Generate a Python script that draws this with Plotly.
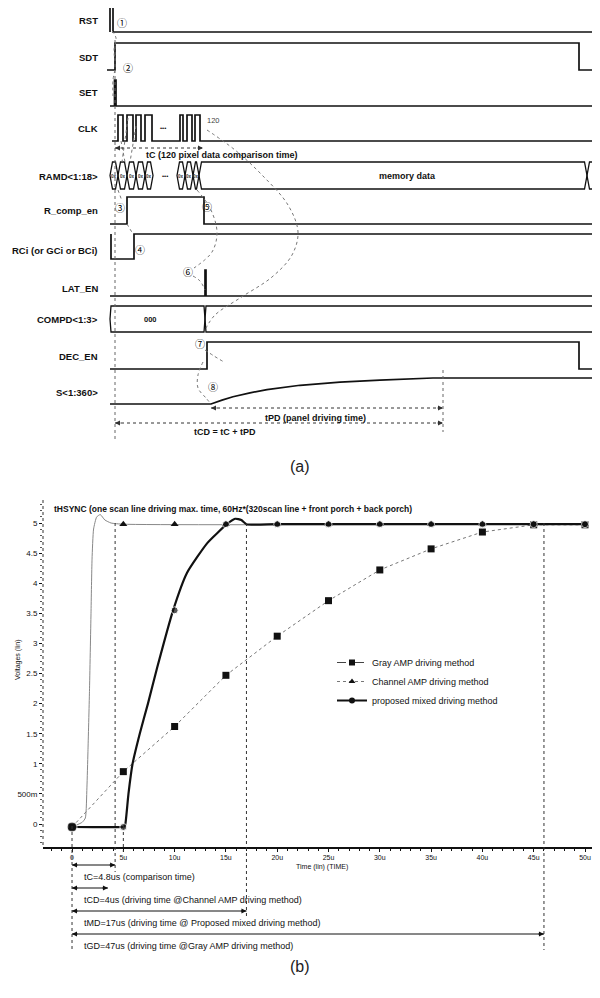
import plotly.graph_objects as go

W, H = 600, 998
OFF = 8  # page body margin offset of the rendered figure


def px(x):
    return (x - OFF) / W


def py(y):
    return 1 - (y - OFF) / H


# ===================== (a) timing diagram data (diagram time units) =====================
SIGNAL_NAMES = ["RST", "SDT", "SET", "CLK", "RAMD<1:18>", "R_comp_en",
                "RCi (or GCi or BCi)", "LAT_EN", "COMPD<1:3>", "DEC_EN", "S<1:360>"]

RST_T = [110, 110, 113, 113, 600]
RST_V = [0, 1, 1, 0, 0]
SDT_T = [107, 115, 115, 579, 579, 600]
SDT_V = [0, 0, 1, 1, 0, 0]
SET_T = [110, 114.5, 114.5, 116, 116, 600]
SET_V = [0, 0, 1, 1, 0, 0]
CLK_RISE = [118, 127, 136, 145, 180, 187, 195]
CLK_FALL = [123, 133, 141, 152, 183, 192, 200]
RCOMP_T = [110, 127, 127, 204, 204, 600]
RCOMP_V = [0, 0, 1, 1, 0, 0]
RCI_T = [111, 111, 134, 134, 600]
RCI_V = [1, 0, 0, 1, 1]
LAT_T = [110, 205, 205, 206, 206, 600]
LAT_V = [0, 0, 1, 1, 0, 0]
DEC_T = [110, 207, 207, 579, 579, 600]
DEC_V = [0, 0, 1, 1, 0, 0]
S_T = [110, 211, 222, 233, 250, 267, 300, 340, 380, 433, 600]
S_V = [0, 0, 0.15, 0.28, 0.43, 0.55, 0.72, 0.84, 0.92, 1.0, 1.0]

RAMD_GROUP1 = [110, 118, 127, 136, 145, 153]
RAMD_GROUP2 = [177, 185, 193, 199]
RAMD_MEM = [199, 587, 606]
COMPD_BOUNDS = [110, 205, 606]

# ===================== (b) voltage chart data =====================
T_MARK = [0, 5, 10, 15, 20, 25, 30, 35, 40, 45, 50]          # us
GRAY_V = [-0.05, 0.87, 1.62, 2.47, 3.12, 3.71, 4.22, 4.57, 4.85, 4.97, 4.97]
CHANNEL_MARK_V = [-0.05, 4.98, 4.98, 4.98, 4.98, 4.98, 4.98, 4.98, 4.98, 4.98, 4.98]
MIXED_MARK_V = [-0.05, -0.05, 3.55, 4.98, 4.98, 4.98, 4.98, 4.98, 4.98, 4.98, 4.98]

CHANNEL_T = [0, 1.0, 1.3, 1.45, 1.55, 1.7, 1.85, 1.95, 2.1, 2.4, 2.75, 3.2, 3.8, 5, 50]
CHANNEL_V = [-0.05, 0.03, 0.1, 0.6, 1.2, 2.2, 3.5, 4.4, 4.9, 5.1, 5.14, 5.05, 5.0, 4.98, 4.98]
MIXED_T = [0, 4.9, 5.1, 5.2, 5.5, 5.9, 6.6, 7.4, 8.3, 9.85, 11.2, 13.2, 15.1, 15.9, 16.5, 17, 20, 50]
MIXED_V = [-0.05, -0.05, -0.04, 0.0, 0.5, 1.0, 1.5, 2.0, 2.6, 3.55, 4.17, 4.67, 4.98, 5.07, 5.05, 4.98,
           4.98, 4.98]

X_TICKS = [0, 5, 10, 15, 20, 25, 30, 35, 40, 45, 50]
X_TICKTEXT = ["0", "5u", "10u", "15u", "20u", "25u", "30u", "35u", "40u", "45u", "50u"]
Y_TICKS = [0, 0.5, 1, 1.5, 2, 2.5, 3, 3.5, 4, 4.5, 5]
Y_TICKTEXT = ["0", "500m", "1", "1.5", "2", "2.5", "3", "3.5", "4", "4.5", "5"]

TIME_MARKS = {"tC": 4.2, "tCD": 3.5, "tMD": 17, "tGD": 46}
TIME_TEXTS = ["tC=4.8us (comparison time)",
              "tCD=4us (driving time @Channel AMP driving method)",
              "tMD=17us (driving time @ Proposed mixed driving method)",
              "tGD=47us (driving time @Gray AMP driving method)"]

# ===================== layout helpers (positions / styles) =====================
ROW = {  # name: (low y, high y, label y)   in diagram pixel rows
    "RST": (32, 7, 20), "SDT": (70, 43, 57), "SET": (106, 80, 92), "CLK": (141, 115, 128),
    "RAMD<1:18>": (189, 162, 176), "R_comp_en": (224, 197, 210),
    "RCi (or GCi or BCi)": (259, 234, 250), "LAT_EN": (296, 270, 288),
    "COMPD<1:3>": (332, 306, 319), "DEC_EN": (369, 342, 356), "S<1:360>": (404, 378, 392),
}
BLACK = "#111111"
LBL_FONT = "Liberation Sans"

fig = go.Figure()


def add_signal(name, t, v):
    lo, hi, _ = ROW[name]
    ys = [lo + (hi - lo) * k for k in v]
    fig.add_trace(go.Scatter(x=t, y=ys, mode="lines", line=dict(color=BLACK, width=1.7),
                             xaxis="x", yaxis="y", showlegend=False, hoverinfo="skip"))


def add_bus(name, bounds, d=2.5):
    lo, hi, _ = ROW[name]
    mid = (lo + hi) / 2
    for a, b in zip(bounds[:-1], bounds[1:]):
        xs = [a, a + d, b - d, b, b - d, a + d, a]
        ys = [mid, hi, hi, mid, lo, lo, mid]
        fig.add_trace(go.Scatter(x=xs, y=ys, mode="lines", line=dict(color=BLACK, width=1.3),
                                 xaxis="x", yaxis="y", showlegend=False, hoverinfo="skip"))


add_signal("RST", RST_T, RST_V)
add_signal("SDT", SDT_T, SDT_V)
add_signal("SET", SET_T, SET_V)
clk_t, clk_v = [112], [0]
for r, f in zip(CLK_RISE, CLK_FALL):
    clk_t += [r, r, f, f]
    clk_v += [0, 1, 1, 0]
clk_t.append(600)
clk_v.append(0)
add_signal("CLK", clk_t, clk_v)
add_bus("RAMD<1:18>", RAMD_GROUP1)
add_bus("RAMD<1:18>", RAMD_GROUP2)
add_bus("RAMD<1:18>", RAMD_MEM)
add_signal("R_comp_en", RCOMP_T, RCOMP_V)
add_signal("RCi (or GCi or BCi)", RCI_T, RCI_V)
add_signal("LAT_EN", LAT_T, LAT_V)
add_bus("COMPD<1:3>", COMPD_BOUNDS, d=1)
add_signal("DEC_EN", DEC_T, DEC_V)
add_signal("S<1:360>", S_T, S_V)

# gray dotted sequence curves
SEQ_PATHS = [
    [(112, 31), (116, 38), (114, 50), (115, 60)],
    [(115, 70), (113, 80), (113, 96)],
    [(128, 118), (122, 162)], [(136, 126), (130, 162)], [(121, 141), (125, 162)],
    [(118, 190), (122, 201)], [(127, 224), (133, 234)],
    [(207, 130), (235, 150), (262, 175), (288, 205), (298, 232), (292, 255),
     (272, 277), (240, 298), (215, 315), (206, 328)],
    [(197, 190), (210, 208), (217, 232), (212, 252), (194, 268)],
    [(193, 276), (200, 281), (205, 290)],
    [(205, 350), (214, 356), (224, 362)],
    [(203, 362), (198, 375), (198, 388), (206, 398), (211, 404)],
]
for path in SEQ_PATHS:
    fig.add_trace(go.Scatter(x=[p[0] for p in path], y=[p[1] for p in path], mode="lines",
                             line=dict(color="#777777", width=1, dash="dot", shape="spline"),
                             xaxis="x", yaxis="y", showlegend=False, hoverinfo="skip"))

shapes = []
annotations = []

# vertical dotted guides in (a)
shapes.append(dict(type="line", xref="x", yref="y", x0=115, x1=115, y0=40, y1=440,
                   line=dict(color="#666666", width=1, dash="dot")))
shapes.append(dict(type="line", xref="x", yref="y", x0=443, x1=443, y0=370, y1=432,
                   line=dict(color="#666666", width=1, dash="dot")))


def arrow(x0, x1, y, xref, yref, dash="dot", color="#333333"):
    shapes.append(dict(type="line", xref=xref, yref=yref, x0=x0, x1=x1, y0=y, y1=y,
                       line=dict(color=color, width=1, dash=dash)))
    for xe, ax in ((x0, 7), (x1, -7)):
        annotations.append(dict(x=xe, y=y, xref=xref, yref=yref, ax=ax, ay=0, text="",
                                showarrow=True, arrowhead=2, arrowsize=1, arrowwidth=1,
                                arrowcolor=color, standoff=0))


arrow(115, 203, 148, "x", "y")
arrow(211, 443, 408, "x", "y")
arrow(115, 443, 423, "x", "y")

# signal labels
for name in SIGNAL_NAMES:
    annotations.append(dict(x=100, y=ROW[name][2], xref="x", yref="y", text=f"<b>{name}</b>",
                            showarrow=False, xanchor="right", yanchor="middle",
                            font=dict(family=LBL_FONT, size=9.5, color=BLACK)))

CIRCLED = [("①", 122, 22), ("②", 128, 67), ("③", 120, 207), ("④", 140, 249),
           ("⑤", 207, 206), ("⑥", 188, 271), ("⑦", 200, 343), ("⑧", 213, 386)]
for txt, x, y in CIRCLED:
    annotations.append(dict(x=x, y=y, xref="x", yref="y", text=txt, showarrow=False,
                            font=dict(family="Noto Sans CJK JP", size=10, color="#000000")))

top_texts = [
    ("120", 213, 120, 7.5, False, "#444444"),
    ("tC (120 pixel data comparison time)", 222, 155, 9, True, BLACK),
    ("memory data", 407, 176, 9, True, BLACK),
    ("000", 150, 319, 7.5, True, BLACK),
    ("tPD (panel driving time)", 315, 418, 9, True, BLACK),
    ("tCD = tC + tPD", 225, 432, 9, True, BLACK),
    ("•••", 163, 128, 6, True, BLACK),
    ("•••", 165, 176, 6, True, BLACK),
]
for txt, x, y, s, b, c in top_texts:
    annotations.append(dict(x=x, y=y, xref="x", yref="y", text=f"<b>{txt}</b>" if b else txt,
                            showarrow=False, font=dict(family=LBL_FONT, size=s, color=c)))
for a, b in zip(RAMD_GROUP1[:-1] + RAMD_GROUP2[:-1], RAMD_GROUP1[1:] + RAMD_GROUP2[1:]):
    annotations.append(dict(x=(a + b) / 2, y=176, xref="x", yref="y", text="<b>0x</b>",
                            showarrow=False, font=dict(family=LBL_FONT, size=4.5, color="#333")))

# ===================== (b) traces =====================
fig.add_trace(go.Scatter(x=T_MARK, y=GRAY_V, mode="lines", line=dict(color="#777777", width=1, dash="dot"),
                         xaxis="x2", yaxis="y2", showlegend=False, hoverinfo="skip"))
fig.add_trace(go.Scatter(x=CHANNEL_T, y=CHANNEL_V, mode="lines",
                         line=dict(color="#888888", width=1, shape="spline", smoothing=0.5),
                         xaxis="x2", yaxis="y2", showlegend=False, hoverinfo="skip"))
fig.add_trace(go.Scatter(x=MIXED_T, y=MIXED_V, mode="lines",
                         line=dict(color=BLACK, width=2.2, shape="spline", smoothing=0.5),
                         xaxis="x2", yaxis="y2", showlegend=False, hoverinfo="skip"))
fig.add_trace(go.Scatter(x=T_MARK, y=GRAY_V, mode="markers",
                         marker=dict(symbol="square", size=7, color=BLACK),
                         xaxis="x2", yaxis="y2", showlegend=False, hoverinfo="skip"))
fig.add_trace(go.Scatter(x=T_MARK, y=CHANNEL_MARK_V, mode="markers",
                         marker=dict(symbol="triangle-up", size=7, color=BLACK),
                         xaxis="x2", yaxis="y2", showlegend=False, hoverinfo="skip"))
fig.add_trace(go.Scatter(x=T_MARK, y=MIXED_MARK_V, mode="markers",
                         marker=dict(symbol="circle", size=[10] + [7] * (len(T_MARK) - 1), color=BLACK),
                         xaxis="x2", yaxis="y2", showlegend=False, hoverinfo="skip"))

# legend entries
LEGEND_NAMES = ["Gray AMP driving method", "Channel AMP driving method", "proposed mixed driving method"]
legend_styles = [
    (dict(color="#444444", width=1, dash="dash"), "square"),
    (dict(color="#777777", width=1, dash="dot"), "triangle-up"),
    (dict(color=BLACK, width=2), "circle"),
]
for nm, (ln, sym) in zip(LEGEND_NAMES, legend_styles):
    fig.add_trace(go.Scatter(x=[None], y=[None], mode="lines+markers", name=nm, line=ln,
                             marker=dict(symbol=sym, size=6, color=BLACK),
                             xaxis="x2", yaxis="y2"))

# dotted guide lines in (b)
GUIDES = [(0, 826, 952), (TIME_MARKS["tC"], 523, 872), (5, 826, 852),
          (TIME_MARKS["tMD"], 523, 918), (TIME_MARKS["tGD"], 523, 950)]
for t, y0, y1 in GUIDES:
    shapes.append(dict(type="line", xref="x2", yref="paper", x0=t, x1=t, y0=py(y0), y1=py(y1),
                       line=dict(color="#333333", width=1, dash="dot")))
# y-axis dotted line
shapes.append(dict(type="line", xref="paper", yref="paper", x0=px(43), x1=px(43), y0=py(500), y1=py(847),
                   line=dict(color="#333333", width=1, dash="dot")))

arrow_rows = [865, 888, 911, 934]
for (key, tend), yrow, txt in zip(TIME_MARKS.items(), arrow_rows, TIME_TEXTS):
    arrow(0, tend, py(yrow), "x2", "paper", dash="solid", color=BLACK)
    annotations.append(dict(x=1.0, y=py(yrow + 12), xref="x2", yref="paper", text=txt, showarrow=False,
                            xanchor="left", yanchor="middle",
                            font=dict(family=LBL_FONT, size=9, color=BLACK)))

annotations += [
    dict(x=px(52), y=py(509), xref="paper", yref="paper", xanchor="left", yanchor="middle",
         text="<b>tHSYNC (one scan line driving max. time, 60Hz*(320scan line + front porch + back porch)</b>",
         showarrow=False, font=dict(family=LBL_FONT, size=8.5, color=BLACK)),
    dict(x=px(12), y=py(660), xref="paper", yref="paper", text="Voltages (lin)", textangle=-90,
         showarrow=False, font=dict(family=LBL_FONT, size=7, color=BLACK)),
    dict(x=px(322), y=py(873), xref="paper", yref="paper", text="Time (lin) (TIME)",
         showarrow=False, font=dict(family=LBL_FONT, size=7, color=BLACK)),
    dict(x=px(300), y=py(466), xref="paper", yref="paper", text="(a)", showarrow=False,
         font=dict(family=LBL_FONT, size=16, color="#222222")),
    dict(x=px(300), y=py(977), xref="paper", yref="paper", text="(b)", showarrow=False,
         font=dict(family=LBL_FONT, size=16, color="#222222")),
]

fig.update_layout(
    width=W, height=H, margin=dict(l=0, r=0, t=0, b=0),
    paper_bgcolor="white", plot_bgcolor="white",
    xaxis=dict(domain=[0, 1], range=[OFF, W + OFF], visible=False, fixedrange=True),
    yaxis=dict(domain=[1 - 450 / H, 1], range=[450 + OFF, OFF], visible=False, fixedrange=True),
    xaxis2=dict(domain=[px(43), 1], range=[-2.83, (W + OFF - 72) / 10.26], anchor="y2",
                showline=True, linecolor=BLACK, linewidth=2, showgrid=False, zeroline=False,
                tickvals=X_TICKS, ticktext=X_TICKTEXT, ticks="outside", ticklen=3, tickcolor=BLACK,
                tickfont=dict(family=LBL_FONT, size=7, color=BLACK),
                minor=dict(dtick=1, ticks="outside", ticklen=2, tickcolor=BLACK)),
    yaxis2=dict(domain=[py(847), py(500)], range=[-0.382, 5.382], anchor="x2",
                showline=False, showgrid=False, zeroline=False,
                tickvals=Y_TICKS, ticktext=Y_TICKTEXT, ticks="outside", ticklen=3, tickcolor=BLACK,
                tickfont=dict(family=LBL_FONT, size=8, color=BLACK),
                minor=dict(dtick=0.1, ticks="outside", ticklen=2, tickcolor="#555555")),
    legend=dict(x=px(332), y=py(648), xanchor="left", yanchor="top", bgcolor="rgba(0,0,0,0)",
                font=dict(family=LBL_FONT, size=9, color=BLACK), itemwidth=30, tracegroupgap=0),
    shapes=shapes, annotations=annotations,
)

fig.write_html("out.html")
